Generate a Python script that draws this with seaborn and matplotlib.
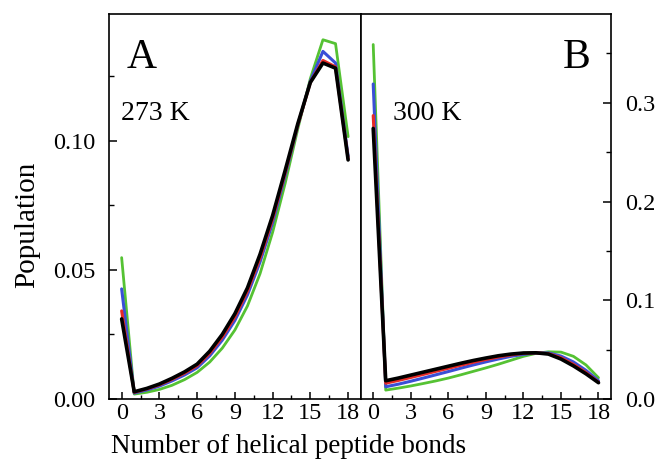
import matplotlib
matplotlib.use("Agg")
import matplotlib.pyplot as plt
from matplotlib.ticker import MultipleLocator
import seaborn as sns
import pandas as pd

sns.set_theme(style="white")
plt.rcParams["font.family"] = ["Liberation Serif", "DejaVu Serif"]
plt.rcParams["text.color"] = "black"
plt.rcParams["xtick.color"] = "black"
plt.rcParams["ytick.color"] = "black"

bonds = list(range(19))

# Panel A, 273 K
a_black = [0.0310, 0.0028, 0.0041, 0.0058, 0.0080, 0.0105, 0.0135, 0.0185, 0.0250, 0.0330,
           0.0430, 0.0560, 0.0710, 0.0885, 0.1065, 0.1225, 0.1300, 0.1280, 0.0925]
a_red = [0.0341, 0.0026, 0.0039, 0.0055, 0.0076, 0.0100, 0.0129, 0.0177, 0.0240, 0.0318,
         0.0418, 0.0546, 0.0697, 0.0875, 0.1060, 0.1225, 0.1310, 0.1285, 0.0930]
a_blue = [0.0426, 0.0023, 0.0035, 0.0050, 0.0070, 0.0093, 0.0121, 0.0167, 0.0228, 0.0304,
          0.0403, 0.0530, 0.0682, 0.0865, 0.1058, 0.1230, 0.1345, 0.1300, 0.0940]
a_green = [0.0547, 0.0019, 0.0026, 0.0037, 0.0053, 0.0075, 0.0103, 0.0143, 0.0197, 0.0267,
           0.0360, 0.0485, 0.0645, 0.0835, 0.1045, 0.1240, 0.1390, 0.1375, 0.1015]

# Panel B, 300 K
b_black = [0.274, 0.0185, 0.0212, 0.0242, 0.0272, 0.0302, 0.0332, 0.0362, 0.0390, 0.0415,
           0.0438, 0.0455, 0.0466, 0.0468, 0.0455, 0.0405, 0.0335, 0.0255, 0.0165]
b_red = [0.287, 0.0160, 0.0188, 0.0218, 0.0249, 0.0280, 0.0311, 0.0342, 0.0372, 0.0400,
         0.0425, 0.0446, 0.0462, 0.0468, 0.0460, 0.0418, 0.0350, 0.0268, 0.0170]
b_blue = [0.319, 0.0124, 0.0150, 0.0180, 0.0212, 0.0245, 0.0278, 0.0312, 0.0345, 0.0376,
          0.0405, 0.0432, 0.0452, 0.0467, 0.0467, 0.0435, 0.0375, 0.0290, 0.0185]
b_green = [0.359, 0.0090, 0.0110, 0.0132, 0.0157, 0.0183, 0.0212, 0.0245, 0.0280, 0.0315,
           0.0352, 0.0392, 0.0432, 0.0462, 0.0478, 0.0475, 0.0432, 0.0345, 0.0215]

xticks = [0, 3, 6, 9, 12, 15, 18]
a_yticks = [0.00, 0.05, 0.10]
a_ylabels = ["0.00", "0.05", "0.10"]
b_yticks = [0.0, 0.1, 0.2, 0.3]
b_ylabels = ["0.0", "0.1", "0.2", "0.3"]

colors = {"green": "#55c233", "blue": "#3a4fd6", "red": "#e62a26", "black": "#000000"}
widths = {"green": 2.0, "blue": 2.2, "red": 2.2, "black": 2.6}

fig = plt.figure(figsize=(6.57, 4.59), dpi=100)
ax1 = fig.add_axes([0.166, 0.1307, 0.383, 0.839])
ax2 = fig.add_axes([0.549, 0.1307, 0.381, 0.839])

panel_a = {"green": a_green, "blue": a_blue, "red": a_red, "black": a_black}
panel_b = {"green": b_green, "blue": b_blue, "red": b_red, "black": b_black}

for ax, series in ((ax1, panel_a), (ax2, panel_b)):
    for name in ["green", "blue", "red", "black"]:
        df = pd.DataFrame({"bonds": bonds, "pop": series[name]})
        sns.lineplot(data=df, x="bonds", y="pop", ax=ax, color=colors[name],
                     linewidth=widths[name], legend=False)
    ax.set_xlim(-1, 19)
    ax.set_xticks(xticks)
    ax.set_xticklabels([str(t) for t in xticks])
    ax.xaxis.set_minor_locator(MultipleLocator(1.5))
    ax.set_xlabel("")
    ax.set_ylabel("")
    for s in ax.spines.values():
        s.set_color("black")
        s.set_linewidth(1.2)
        s.set_visible(True)

ax1.set_ylim(0, 0.149)
ax1.set_yticks(a_yticks)
ax1.set_yticklabels(a_ylabels)
ax1.yaxis.set_minor_locator(MultipleLocator(0.025))
ax1.tick_params(axis="both", which="both", direction="in", colors="black",
                left=True, right=False, top=False, bottom=True, labelsize=17.5)
ax1.tick_params(axis="y", which="major", length=6, width=1.1, pad=10)
ax1.tick_params(axis="y", which="minor", length=3.5, width=1.0)
ax1.tick_params(axis="x", which="major", length=5, width=1.1, pad=3)
ax1.tick_params(axis="x", which="minor", length=3, width=1.0)

ax2.set_ylim(0, 0.39)
ax2.set_yticks(b_yticks)
ax2.set_yticklabels(b_ylabels)
ax2.yaxis.set_minor_locator(MultipleLocator(0.05))
ax2.yaxis.tick_right()
ax2.tick_params(axis="both", which="both", direction="in", colors="black",
                left=False, right=True, top=False, bottom=True, labelsize=17.5,
                labelleft=False, labelright=True)
ax2.tick_params(axis="y", which="major", length=6, width=1.1, pad=10)
ax2.tick_params(axis="y", which="minor", length=3.5, width=1.0)
ax2.tick_params(axis="x", which="major", length=5, width=1.1, pad=3)
ax2.tick_params(axis="x", which="minor", length=3, width=1.0)

ax1.text(0.071, 0.86, "A", transform=ax1.transAxes, fontsize=30, va="baseline", ha="left", color="black")
ax1.text(0.048, 0.725, "273 K", transform=ax1.transAxes, fontsize=20, va="baseline", ha="left", color="black")
ax2.text(0.92, 0.86, "B", transform=ax2.transAxes, fontsize=30, va="baseline", ha="right", color="black")
ax2.text(0.128, 0.725, "300 K", transform=ax2.transAxes, fontsize=20, va="baseline", ha="left", color="black")

fig.text(0.439, 0.013, "Number of helical peptide bonds", fontsize=19.5, ha="center", va="baseline", color="black")
fig.text(0.041, 0.51, "Population", fontsize=21, ha="center", va="center", rotation=90, color="black")

fig.savefig("out.png", dpi=100)
